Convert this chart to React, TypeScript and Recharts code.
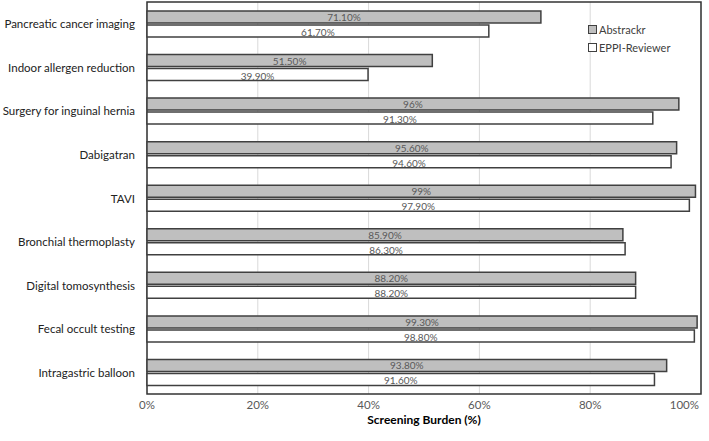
import {
  BarChart,
  Bar,
  XAxis,
  YAxis,
  CartesianGrid,
  LabelList,
  ReferenceArea,
} from 'recharts'

const topics = [
  'Pancreatic cancer imaging',
  'Indoor allergen reduction',
  'Surgery for inguinal hernia',
  'Dabigatran',
  'TAVI',
  'Bronchial thermoplasty',
  'Digital tomosynthesis',
  'Fecal occult testing',
  'Intragastric balloon',
]
const abstrackr = [71.1, 51.5, 96, 95.6, 99, 85.9, 88.2, 99.3, 93.8]
const abstrackrLabels = ['71.10%', '51.50%', '96%', '95.60%', '99%', '85.90%', '88.20%', '99.30%', '93.80%']
const eppi = [61.7, 39.9, 91.3, 94.6, 97.9, 86.3, 88.2, 98.8, 91.6]
const eppiLabels = ['61.70%', '39.90%', '91.30%', '94.60%', '97.90%', '86.30%', '88.20%', '98.80%', '91.60%']
const xTicks = [0, 20, 40, 60, 80, 100]

const data = topics.map((name, i) => ({
  name,
  abstrackr: abstrackr[i],
  abstrackrLabel: abstrackrLabels[i],
  eppi: eppi[i],
  eppiLabel: eppiLabels[i],
}))

const font = 'Lato, "Open Sans", sans-serif'

// value label in the middle of each bar
const barLabel = (dy: number) => (props: any) => {
  const { x, y, width, height, value } = props
  return (
    <text
      x={x + width / 2}
      y={y + height / 2 + dy}
      textAnchor="middle"
      dominantBaseline="central"
      fontSize={10}
      fontFamily={font}
      fill="#595959"
    >
      {value}
    </text>
  )
}

// single-line category label (no wrapping)
const CategoryTick = (props: any) => {
  const { x, y, payload } = props
  return (
    <text x={x - 4} y={y} textAnchor="end" dominantBaseline="central" fontSize={11.5} fontFamily={font} fill="#222">
      {payload.value}
    </text>
  )
}

// last tick is pulled inside the chart, like the original
const PercentTick = (props: any) => {
  const { x, y, payload } = props
  const last = payload.value === 100
  return (
    <text
      x={last ? x + 2 : x}
      y={y + 2}
      textAnchor={last ? 'end' : 'middle'}
      dominantBaseline="central"
      fontSize={11.5}
      fontFamily={font}
      fill="#595959"
    >
      {`${payload.value}%`}
    </text>
  )
}

function LegendBox() {
  const items = [
    { label: 'Abstrackr', fill: '#bfbfbf' },
    { label: 'EPPI-Reviewer', fill: '#ffffff' },
  ]
  return (
    <div
      style={{
        position: 'absolute',
        left: 588,
        top: 20,
        fontFamily: font,
        fontSize: 11,
        color: '#404040',
      }}
    >
      {items.map((it) => (
        <div key={it.label} style={{ display: 'flex', alignItems: 'center', height: 18 }}>
          <span
            style={{
              display: 'inline-block',
              width: 7,
              height: 7,
              background: it.fill,
              border: '1.5px solid #404040',
              marginRight: 2,
            }}
          />
          {it.label}
        </div>
      ))}
    </div>
  )
}

export default function App() {
  return (
    <div style={{ position: 'absolute', left: 0, top: 0, width: 709, height: 441, background: '#fff' }}>
      <BarChart
        width={709}
        height={441}
        data={data}
        layout="vertical"
        margin={{ top: 2, right: 8, bottom: 0, left: 0 }}
        barSize={12}
        barGap={2}
      >
        <CartesianGrid horizontal={false} stroke="#d9d9d9" />
        <XAxis
          type="number"
          domain={[0, 100]}
          ticks={xTicks}
          axisLine={false}
          tickLine={false}
          height={47}
          tick={<PercentTick />}
          label={{
            value: 'Screening Burden (%)',
            position: 'insideBottom',
            offset: 17,
            style: { fontSize: 12, fontWeight: 'bold', fill: '#000', fontFamily: font },
          }}
        />
        <YAxis
          type="category"
          dataKey="name"
          width={147}
          axisLine={false}
          tickLine={false}
          tick={<CategoryTick />}
        />
        <Bar
          dataKey="abstrackr"
          name="Abstrackr"
          fill="#bfbfbf"
          stroke="#404040"
          strokeWidth={1.5}
          isAnimationActive={false}
        >
          <LabelList dataKey="abstrackrLabel" content={barLabel(0)} />
        </Bar>
        <Bar
          dataKey="eppi"
          name="EPPI-Reviewer"
          fill="#ffffff"
          stroke="#404040"
          strokeWidth={1.5}
          isAnimationActive={false}
        >
          <LabelList dataKey="eppiLabel" content={barLabel(1)} />
        </Bar>
        <ReferenceArea x1={0} x2={100} fill="none" stroke="#333" strokeWidth={1.5} ifOverflow="visible" />
      </BarChart>
      <LegendBox />
    </div>
  )
}
